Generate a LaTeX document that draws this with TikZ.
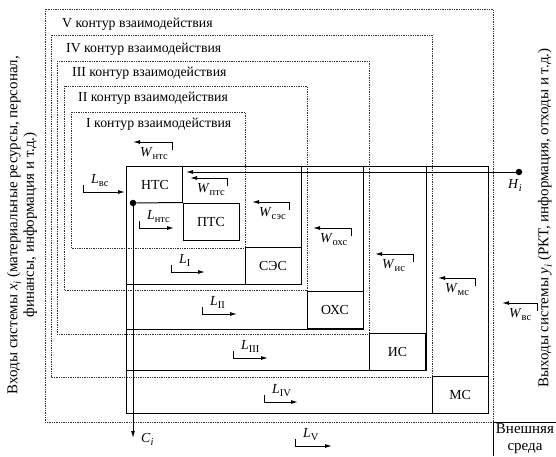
\documentclass[tikz,border=0pt]{standalone}
\usepackage{fontspec}
\setmainfont{Liberation Serif}
\usetikzlibrary{arrows.meta}

\newcommand{\sym}[2]{\textit{#1}\raisebox{-0.5ex}{\fontsize{10.5}{10.5}\selectfont #2}}

\begin{document}
\begin{tikzpicture}[
  x=1pt, y=-1pt,
  every node/.style={font=\fontsize{13.8}{16}\selectfont, inner sep=0pt},
  side/.style={rotate=90, align=center, font=\fontsize{15}{16.5}\selectfont},
  contour/.style={densely dotted, line width=0.75pt, draw=black!80},
  sysbox/.style={line width=1pt},
  namebox/.style={draw, line width=1pt, minimum width=56pt, minimum height=37pt},
  flow/.style={-{Latex[length=7pt,width=4pt]}, line width=1pt},
  dot/.style={circle, fill, minimum size=6.5pt, inner sep=0pt},
]
\useasboundingbox (0,0) rectangle (556,456);

% contours of interaction
\draw[contour] (45,9) rectangle (493,422);
\draw[contour] (51,35) rectangle (432,377);
\draw[contour] (57,61) rectangle (369,334);
\draw[contour] (64,86) rectangle (307,290);
\draw[contour] (71,112) rectangle (245,248);
\node[anchor=base west] (k5) at (62,27) {V контур взаимодействия};
\node[anchor=base west] (k4) at (66,52) {IV контур взаимодействия};
\node[anchor=base west] (k3) at (72,76) {III контур взаимодействия};
\node[anchor=base west] (k2) at (78,101) {II контур взаимодействия};
\node[anchor=base west] (k1) at (86,127) {I контур взаимодействия};

% nested systems
\draw[sysbox] (126,166) rectangle (301,284);
\draw[sysbox] (126,166) rectangle (363,329);
\draw[sysbox] (126,166) rectangle (426,370);
\draw[sysbox] (126,166) rectangle (488,413);
\node (ntc) at (155,185) {НТС};
\node[namebox] (ptc) at (211,221.5) {ПТС};
\node[namebox] (sec) at (273,266) {СЭС};
\node[namebox] (ohs) at (335,309.5) {ОХС};
\node[namebox] (is) at (397.5,351.5) {ИС};
\node[namebox] (ms) at (460,395) {МС};
\draw[sysbox] (ptc.north west) -- (ptc.north west |- 0,166);

% external environment
\node[align=center, font=\fontsize{15}{17}\selectfont] (env) at (525,439) {Внешняя\\среда};
\draw[sysbox] (493,456) |- (556,422);

% inputs and outputs
\node[side] (inp) at (22,225)
  {Входы системы \textit{x}\raisebox{-0.5ex}{\fontsize{11}{11}\selectfont\textit{i}} (материальные ресурсы, персонал,\\финансы, информация и т.д.)};
\node[side] (outp) at (545,218)
  {Выходы системы \textit{y}\raisebox{-0.5ex}{\fontsize{11}{11}\selectfont\textit{i}} (РКТ, информация, отходы и т.д.)};

\node[dot] (hdot) at (519,172) {};
\coordinate (hend) at (186,172);
\draw[flow] (hdot) -- (hend);
\node[anchor=base west] (hlab) at (508,188) {\sym{H}{\textit{i}}};

\node[dot] (cdot) at (133,203) {};
\coordinate (cend) at (133,438);
\draw[flow] (cdot) -- (cend);
\draw[sysbox] (cdot) -- (ptc.north west);
\node[anchor=base west] (clab) at (141,442) {\sym{C}{\textit{i}}};

% links L (corner x, y, tip x, subscript)
\foreach \x/\y/\e/\s in {83/192/125/вс, 139/228/174/нтс, 171/272/205/I, 202/314/237/II,
    233/358/268/III, 264/402/298/IV, 295/446/332/V} {
  \draw[flow] (\x,\y-7) |- (\e,\y);
  \node[anchor=base west] (L\s) at (\x+8,\y-9) {\sym{L}{\s}};
}

% links W (corner x, y, tip x, subscript)
\foreach \x/\y/\e/\s in {172/142/133/нтс, 227/178/190/птс, 289/202/252/сэс, 351/228/313/охс,
    413/254/375/ис, 475/278/438/мс, 537/303/502/вс} {
  \draw[flow] (\x,\y+8) |- (\e,\y);
  \node[anchor=base west] (W\s) at (\e+7,\y+14) {\sym{W}{\s}};
}
\end{tikzpicture}
\end{document}
